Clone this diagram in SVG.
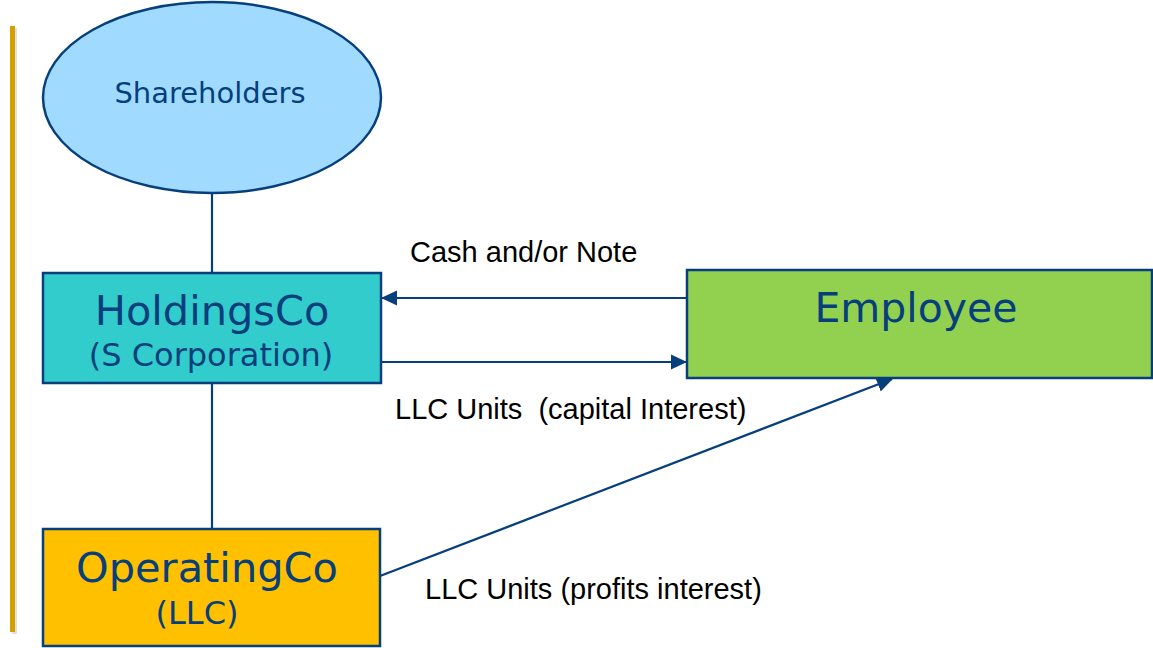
<svg xmlns="http://www.w3.org/2000/svg" width="1153" height="648" viewBox="0 0 1153 648">
<style>
.node{stroke:#063f7c;stroke-width:2.5}
.lbl{font-family:"DejaVu Sans",Verdana,sans-serif;fill:#063f7c;text-anchor:middle}
.edge{stroke:#063f7c;stroke-width:2.2;fill:none}
.etxt{font-family:"Liberation Sans",Arial,sans-serif;font-size:29px;fill:#000}
</style>
<defs>
<marker id="arr" markerWidth="16" markerHeight="16" refX="15" refY="8" orient="auto" markerUnits="userSpaceOnUse">
<path d="M0,0.5 L16,8 L0,15.5 Z" fill="#063f7c"/>
</marker>
</defs>
<rect x="12" y="28" width="5" height="606" fill="#000" opacity="0.12"/>
<rect x="10" y="26" width="5" height="606" fill="#d4a000"/>
<g id="connectors">
<line class="edge" x1="687" y1="298" x2="382" y2="298" marker-end="url(#arr)"/>
<line class="edge" x1="381" y1="362" x2="686" y2="362" marker-end="url(#arr)"/>
<line class="edge" x1="380" y1="576" x2="892" y2="379" marker-end="url(#arr)"/>
<line class="edge" x1="212" y1="193" x2="212" y2="273"/>
<line class="edge" x1="212" y1="383" x2="212" y2="529"/>
<text class="etxt" x="410" y="262">Cash and/or Note</text>
<text class="etxt" x="395" y="419" xml:space="preserve">LLC Units  (capital Interest)</text>
<text class="etxt" x="425" y="599">LLC Units (profits interest)</text>
</g>
<g id="shareholders">
<ellipse class="node" cx="212" cy="97.5" rx="169" ry="95.5" fill="#a0dbff"/>
<text class="lbl" x="210" y="103" font-size="29">Shareholders</text>
</g>
<g id="holdingsco">
<rect class="node" x="43" y="273" width="338" height="110" fill="#33cccc"/>
<text class="lbl" x="212" y="325" font-size="41.5">HoldingsCo</text>
<text class="lbl" x="211" y="366" font-size="32">(S Corporation)</text>
</g>
<g id="employee">
<rect class="node" x="687" y="270" width="465" height="108" fill="#92d050"/>
<text class="lbl" x="916" y="322" font-size="41">Employee</text>
</g>
<g id="operatingco">
<rect class="node" x="43" y="529" width="337" height="117" fill="#ffc000"/>
<text class="lbl" x="207" y="582" font-size="41.5">OperatingCo</text>
<text class="lbl" x="197" y="624" font-size="32">(LLC)</text>
</g>
</svg>
